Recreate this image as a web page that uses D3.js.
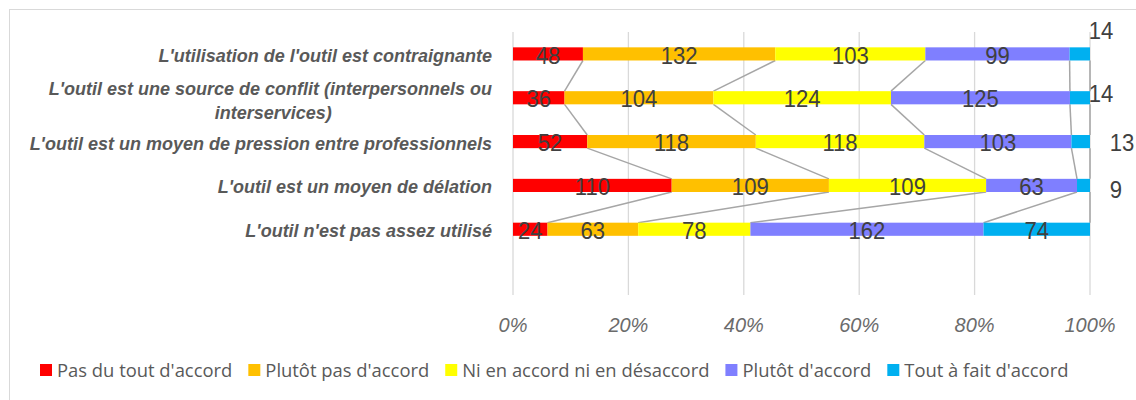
<!DOCTYPE html>
<html>
<head>
<meta charset="utf-8">
<script src="https://cdn.jsdelivr.net/npm/d3@7/dist/d3.min.js"></script>
<style>
  html, body { margin: 0; padding: 0; background: #fff; }
  svg { display: block; }
</style>
</head>
<body>
<svg id="chart" width="1136" height="400"></svg>
<script>
// Statements (top to bottom), the second one wraps on two lines
const categories = [
  ["L'utilisation de l'outil est contraignante"],
  ["L'outil est une source de conflit (interpersonnels ou", "interservices)"],
  ["L'outil est un moyen de pression entre professionnels"],
  ["L'outil est un moyen de délation"],
  ["L'outil n'est pas assez utilisé"]
];
const seriesNames = ["Pas du tout d'accord", "Plutôt pas d'accord", "Ni en accord ni en désaccord", "Plutôt d'accord", "Tout à fait d'accord"];
const pasDuTout   = [48, 36, 52, 110, 24];
const plutotPas   = [132, 104, 118, 109, 63];
const niNi        = [103, 124, 118, 109, 78];
const plutot      = [99, 125, 103, 63, 162];
const toutAFait   = [14, 14, 13, 9, 74];
const tickLabels  = ["0%", "20%", "40%", "60%", "80%", "100%"];

const colors = ["#FF0000", "#FFC000", "#FFFF00", "#7F7FFF", "#00B0F0"];
// nudges for the small end labels that sit outside the bars [dx, dy]
const endLabelNudge = [[11, -24.5], [11, -5], [32, 0], [26, 2.5], null];

const series = [pasDuTout, plutotPas, niNi, plutot, toutAFait];
const svg = d3.select("#chart");

// outer frame
svg.append("rect").attr("x", 9.5).attr("y", 9.5).attr("width", 1140).attr("height", 400)
  .attr("fill", "none").attr("stroke", "#d9d9d9").attr("stroke-width", 1);

const x = d3.scaleLinear().domain([0, 1]).range([513, 1090]);
const slots = d3.range(categories.length + 1); // one empty slot under the last bar
const y = d3.scaleBand().domain(slots).range([32, 295]).paddingInner(0.7).paddingOuter(0.35);

// stacked shares per row
const rows = categories.map((c, i) => {
  const vals = series.map(s => s[i]);
  const total = d3.sum(vals);
  let acc = 0;
  return vals.map((v, k) => {
    const s = { row: i, k, v, x0: acc / total, x1: (acc + v) / total };
    acc += v;
    return s;
  });
});

// gridlines
const ticks = d3.range(0, 1.0001, 0.2);
svg.append("g").selectAll("line").data(ticks).join("line")
  .attr("x1", d => x(d)).attr("x2", d => x(d))
  .attr("y1", 32).attr("y2", 295)
  .attr("stroke", "#d9d9d9").attr("stroke-width", 1.3);

// tick labels
svg.append("g").selectAll("text").data(ticks).join("text")
  .attr("x", d => x(d)).attr("y", 332)
  .attr("text-anchor", "middle")
  .attr("font-family", "'Liberation Sans', sans-serif")
  .attr("font-style", "italic").attr("font-size", 20).attr("fill", "#6b6b6b")
  .text((d, i) => tickLabels[i]);

// series lines joining segment ends of neighbouring bars
const sl = svg.append("g");
for (let i = 0; i < rows.length - 1; i++) {
  for (let k = 0; k < series.length; k++) {
    sl.append("line")
      .attr("x1", x(rows[i][k].x1)).attr("y1", y(i) + y.bandwidth())
      .attr("x2", x(rows[i + 1][k].x1)).attr("y2", y(i + 1))
      .attr("stroke", "#a6a6a6").attr("stroke-width", 1.5);
  }
}

// bars
const bars = svg.append("g");
rows.forEach(segs => {
  bars.selectAll(null).data(segs).join("rect")
    .attr("x", d => x(d.x0)).attr("y", d => y(d.row))
    .attr("width", d => x(d.x1) - x(d.x0)).attr("height", y.bandwidth())
    .attr("fill", d => colors[d.k]);
});

// value labels (slightly narrowed glyphs)
const vl = svg.append("g")
  .attr("font-family", "'Liberation Sans', sans-serif")
  .attr("font-size", 24).attr("fill", "#404040");
rows.forEach((segs, i) => {
  segs.forEach(d => {
    let cx = x((d.x0 + d.x1) / 2), cy = y(i) + y.bandwidth() / 2 + 9.6;
    const nudge = d.k === series.length - 1 ? endLabelNudge[i] : null;
    if (nudge) { cx = x(d.x1) + nudge[0]; cy += nudge[1]; }
    const t = vl.append("text").attr("x", cx).attr("y", cy).attr("text-anchor", "middle").text(d.v);
    const w = t.node().getComputedTextLength();
    t.attr("textLength", w * 0.92).attr("lengthAdjust", "spacingAndGlyphs");
  });
});

// category labels
const cl = svg.append("g")
  .attr("font-family", "'Liberation Sans', sans-serif")
  .attr("font-style", "italic").attr("font-weight", "bold")
  .attr("font-size", 18).attr("fill", "#595959");
categories.forEach((lines, i) => {
  const cy = y(i) + y.bandwidth() / 2;
  if (lines.length === 1) {
    cl.append("text").attr("x", 492).attr("y", cy + 8).attr("text-anchor", "end").text(lines[0]);
  } else {
    const first = cl.append("text").attr("x", 492).attr("y", cy - 2.5).attr("text-anchor", "end").text(lines[0]);
    const w = first.node().getComputedTextLength();
    cl.append("text").attr("x", 492 - w / 2 + 3).attr("y", cy + 21.5).attr("text-anchor", "middle").text(lines[1]);
  }
});

// legend
const lg = svg.append("g")
  .attr("font-family", "'Open Sans', sans-serif")
  .attr("font-size", 18.4).attr("fill", "#595959");
let lx = 40;
seriesNames.forEach((name, k) => {
  lg.append("rect").attr("x", lx).attr("y", 364).attr("width", 12).attr("height", 12).attr("fill", colors[k]);
  const t = lg.append("text").attr("x", lx + 17).attr("y", 377).text(name);
  lx += 17 + t.node().getComputedTextLength() + 16;
});
</script>
</body>
</html>
